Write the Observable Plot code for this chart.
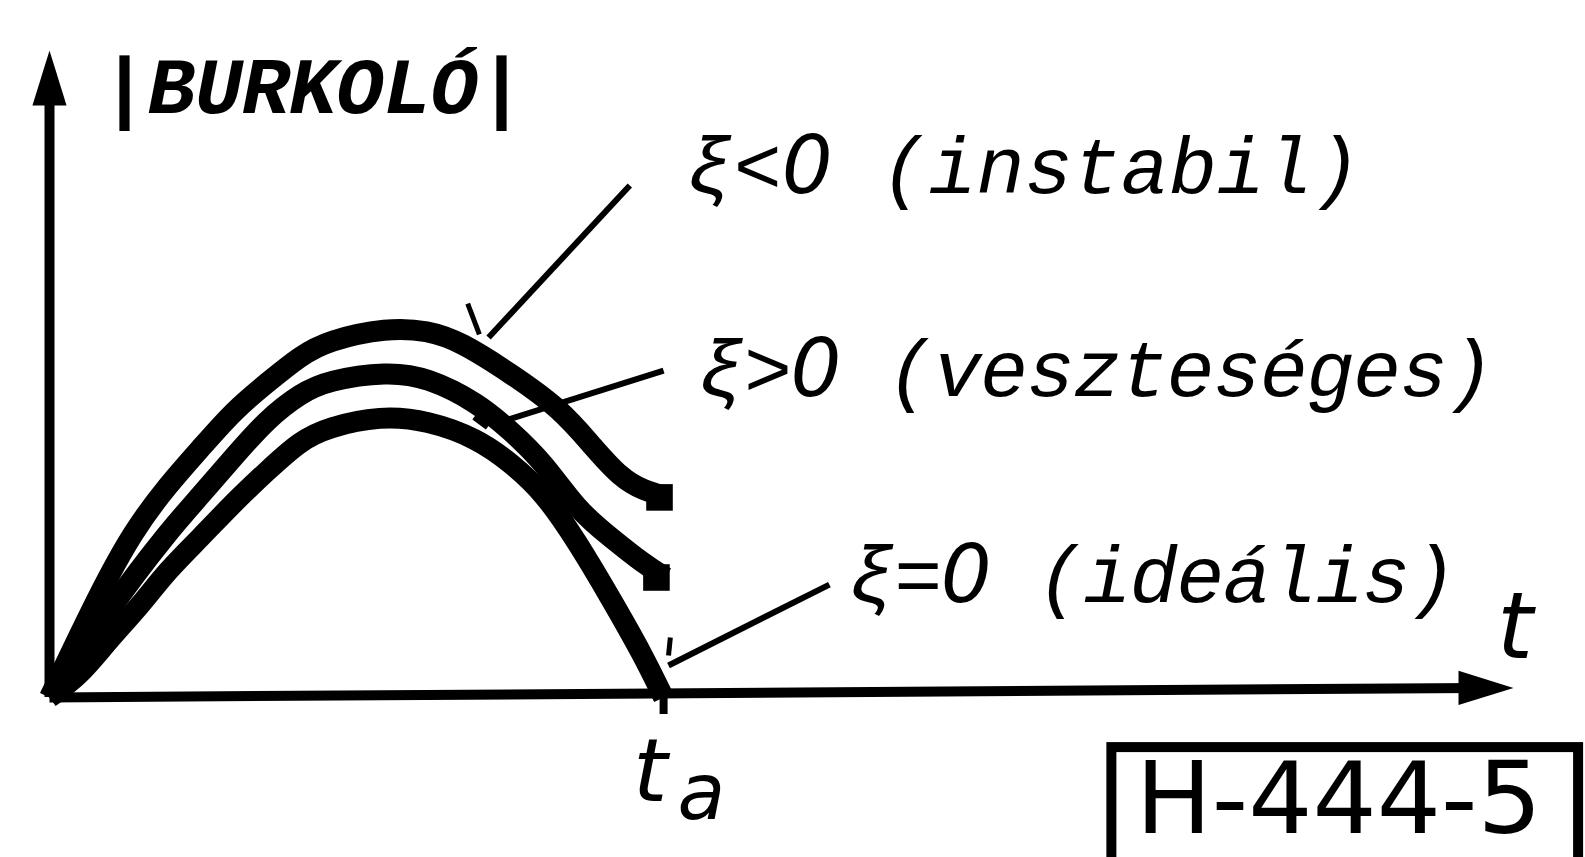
<!DOCTYPE html>
<html>
<head>
<meta charset="utf-8">
<script src="https://cdn.jsdelivr.net/npm/d3@7"></script>
<script src="https://cdn.jsdelivr.net/npm/@observablehq/plot@0.6"></script>
<style>
  html, body { margin: 0; padding: 0; background: #fff; overflow: hidden; }
  #chart svg { display: block; }
</style>
</head>
<body>
<div id="chart"></div>
<script>
// ---- data (t in units of t_a, envelope in units of the ideal peak) ----
const T_A = 1;
const AXIS_T_END = 2.384;
const AXIS_Y_END = 2.286;
const X_AXIS_RISE = 0.034;

const tInstabil = [0, 0.083, 0.137, 0.192, 0.246, 0.300, 0.355, 0.409, 0.453, 0.550, 0.616, 0.669, 0.751, 0.832, 0.886, 0.930, 0.967, 1.008];
const yInstabil = [0, 0.378, 0.590, 0.749, 0.880, 1.014, 1.113, 1.208, 1.261, 1.307, 1.297, 1.258, 1.145, 1.021, 0.883, 0.777, 0.731, 0.707];

const tVeszteseges = [0, 0.099, 0.192, 0.246, 0.300, 0.355, 0.409, 0.453, 0.550, 0.616, 0.697, 0.751, 0.805, 0.860, 0.914, 0.967, 1.003];
const yVeszteseges = [0, 0.318, 0.583, 0.714, 0.850, 0.985, 1.075, 1.120, 1.152, 1.131, 1.042, 0.943, 0.830, 0.661, 0.565, 0.473, 0.424];

const tIdealis = [0, 0.050, 0.094, 0.148, 0.192, 0.246, 0.300, 0.355, 0.409, 0.453, 0.539, 0.616, 0.697, 0.751, 0.805, 0.860, 0.914, 0.967, 1.0];
const yIdealis = [0, 0.078, 0.198, 0.325, 0.449, 0.565, 0.689, 0.802, 0.908, 0.954, 0.996, 0.979, 0.915, 0.830, 0.724, 0.548, 0.350, 0.148, 0];

const labelText = ["ξ<0 (instabil)", "ξ>0 (veszteséges)", "ξ=0 (ideális)"];
const labelT = [1.036, 1.055, 1.300];
const labelY = [1.784, 1.064, 0.339];

const leaderT1 = [0.945, 1.000, 1.270];
const leaderY1 = [1.809, 1.155, 0.399];
const leaderT2 = [0.715, 0.743, 1.008];
const leaderY2 = [1.272, 0.979, 0.113];
const barbT1 = [0.681, 0.691, 1.011];
const barbY1 = [1.392, 0.989, 0.212];
const barbT2 = [0.700, 0.713, 1.008];
const barbY2 = [1.283, 0.954, 0.148];

const yAxisTitle = "|BURKOLÓ|";
const yAxisTitlePos = [0.083, 2.064];
const xAxisTitle = "t";
const xAxisTitlePos = [2.357, 0.141];
const tickLabel = ["t", "a"];

const stampText = "H-444-5";
const stampBox = [1.730, 2.490, -0.177, -0.700];
const stampTextPos = [1.769, -0.478];

// ---- build tables ----
const series = (ts, ys) => ts.map((t, i) => ({t, y: ys[i]}));
const curves = [series(tInstabil, yInstabil), series(tVeszteseges, yVeszteseges), series(tIdealis, yIdealis)];
const curveEnds = [curves[0][curves[0].length - 1], curves[1][curves[1].length - 1]];
const labels = labelText.map((text, i) => ({text, t: labelT[i], y: labelY[i]}));
const leaders = leaderT1.map((t1, i) => ({t1, y1: leaderY1[i], t2: leaderT2[i], y2: leaderY2[i]}));
const barbs = barbT1.map((t1, i) => ({t1, y1: barbY1[i], t2: barbT2[i], y2: barbY2[i]}));

// arrowhead symbol: tip at the origin, base below
const arrowHead = {
  draw(ctx, size) {
    const r = Math.sqrt(size / Math.PI);
    ctx.moveTo(0, 0);
    ctx.lineTo(0.31 * r, r);
    ctx.lineTo(-0.31 * r, r);
    ctx.closePath();
  }
};

const FONT = "DejaVu Sans";
const MONO = "Liberation Mono";
const textLengths = {
  "|BURKOLÓ|": [425, "spacing"],
  "ξ<0 (instabil)": [675, "spacing"],
  "ξ>0 (veszteséges)": [797, "spacing"],
  "ξ=0 (ideális)": [609, "spacing"],
  "H-444-5": [406, "spacingAndGlyphs"]
};

const marks = [
  // axes
  Plot.ruleX([0], {y1: 0, y2: AXIS_Y_END - 0.12, strokeWidth: 10, stroke: "black"}),
  Plot.link([0], {x1: 0, y1: 0, x2: AXIS_T_END - 0.06, y2: X_AXIS_RISE, strokeWidth: 10, stroke: "black"}),
  Plot.dot([{t: 0, y: AXIS_Y_END}], {x: "t", y: "y", r: 55, symbol: arrowHead, fill: "black", stroke: "none"}),
  Plot.dot([{t: AXIS_T_END, y: X_AXIS_RISE}], {x: "t", y: "y", r: 55, symbol: arrowHead, rotate: 90, fill: "black", stroke: "none"}),
  Plot.ruleX([T_A], {y1: 0, y2: -0.06, strokeWidth: 8, stroke: "black"}),
  // curves
  ...curves.map(c => Plot.line(c, {x: "t", y: "y", curve: "basis", stroke: "black", strokeWidth: 21, strokeLinecap: "butt", strokeLinejoin: "round"})),
  Plot.dot(curveEnds, {x: "t", y: "y", symbol: "square", r: 15, dx: -9, fill: "black", stroke: "none"}),
  // leader lines
  Plot.link(leaders, {x1: "t1", y1: "y1", x2: "t2", y2: "y2", stroke: "black", strokeWidth: 6}),
  Plot.link(barbs, {x1: "t1", y1: "y1", x2: "t2", y2: "y2", stroke: "black", strokeWidth: 5}),
  // labels
  Plot.text(labels, {x: "t", y: "y", text: "text", textAnchor: "start", lineAnchor: "bottom", fontFamily: MONO, fontStyle: "italic", fontSize: 80, fill: "black"}),
  Plot.text([yAxisTitle], {x: yAxisTitlePos[0], y: yAxisTitlePos[1], text: d => d, textAnchor: "start", lineAnchor: "bottom", fontFamily: MONO, fontStyle: "italic", fontWeight: "bold", fontSize: 80, fill: "black"}),
  Plot.text([xAxisTitle], {x: xAxisTitlePos[0], y: xAxisTitlePos[1], text: d => d, textAnchor: "start", lineAnchor: "bottom", fontFamily: FONT, fontStyle: "oblique", fontSize: 92, fill: "black"}),
  Plot.text([tickLabel[0]], {x: T_A, y: 0, text: d => d, textAnchor: "end", lineAnchor: "bottom", dx: 4, dy: 103, fontFamily: FONT, fontStyle: "oblique", fontSize: 88, fill: "black"}),
  Plot.text([tickLabel[1]], {x: T_A, y: 0, text: d => d, textAnchor: "start", lineAnchor: "bottom", dx: 14, dy: 121, fontFamily: FONT, fontStyle: "oblique", fontSize: 78, fill: "black"}),
  // stamp
  Plot.rect([0], {x1: stampBox[0], x2: stampBox[1], y1: stampBox[2], y2: stampBox[3], fill: "none", stroke: "black", strokeWidth: 10}),
  Plot.text([stampText], {x: stampTextPos[0], y: stampTextPos[1], text: d => d, textAnchor: "start", lineAnchor: "bottom", fontFamily: FONT, fontSize: 100, fill: "black"})
];

const chart = Plot.plot({
  width: 1585,
  height: 857,
  marginLeft: 49,
  marginRight: 72,
  marginTop: 50,
  marginBottom: 160,
  x: {domain: [0, AXIS_T_END], axis: null},
  y: {domain: [0, AXIS_Y_END], axis: null},
  style: {background: "white", overflow: "visible", fontFamily: FONT},
  marks
});

d3.select(chart).selectAll("text").each(function () {
  const content = this.textContent;
  const spec = textLengths[content];
  if (spec) {
    this.setAttribute("textLength", spec[0]);
    this.setAttribute("lengthAdjust", spec[1]);
  }
  if (labelText.includes(content)) {
    // draw the digit zero without the monospace dot
    const sel = d3.select(this);
    sel.text(null);
    content.split(/(0)/).forEach(part => {
      if (!part) return;
      const ts = sel.append("tspan").text(part);
      if (part === "0") ts.attr("font-family", FONT).attr("font-style", "oblique");
    });
  }
});

document.getElementById("chart").appendChild(chart);
</script>
</body>
</html>
